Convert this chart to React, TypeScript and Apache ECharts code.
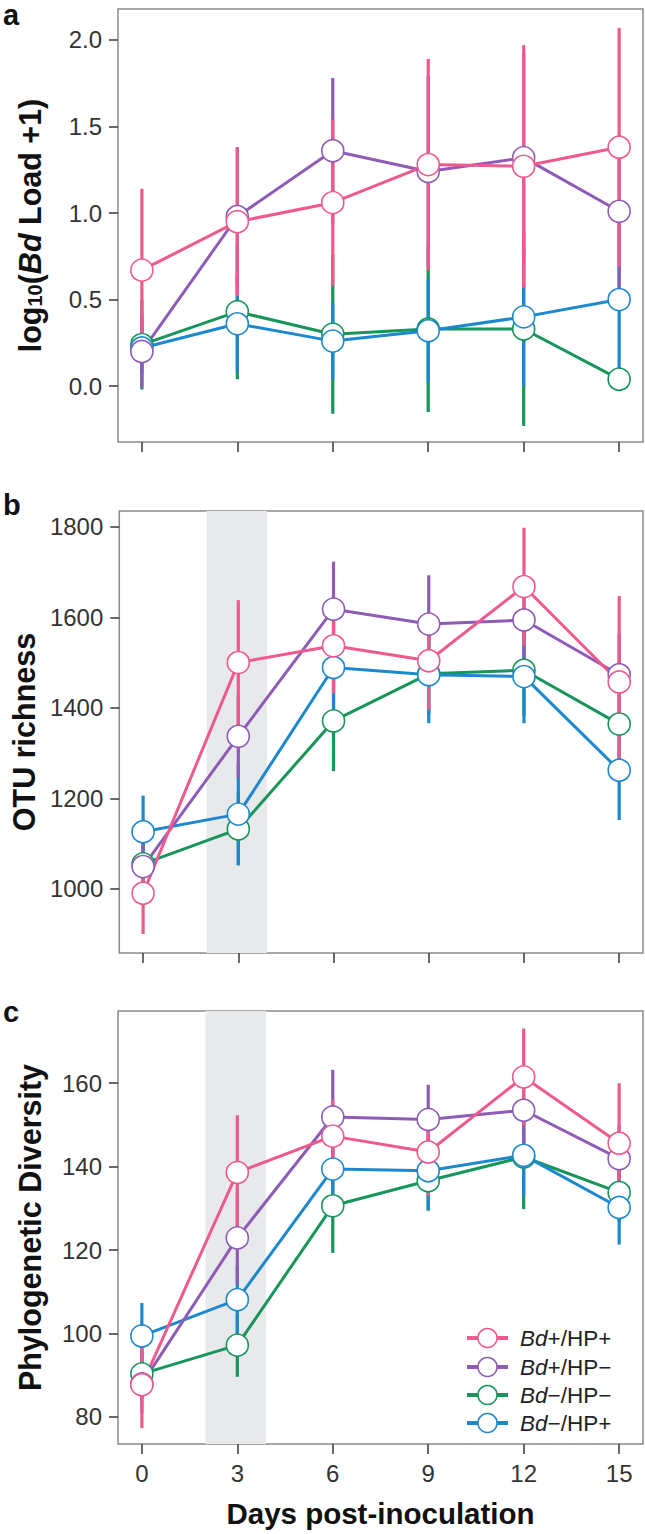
import React, { useEffect, useRef } from "react";
import * as echarts from "echarts";

// ---------- data ----------
const days = [0, 3, 6, 9, 12, 15];
const dayTicks = [0, 3, 6, 9, 12, 15];
const groupNames = ["Bd+/HP+", "Bd+/HP−", "Bd−/HP−", "Bd−/HP+"];
const groupColors = ["#EE5A8E", "#8E5CB6", "#17955A", "#1E88CF"];
const shadeBand = [2, 3.9];

// panel a: log10(Bd load + 1)
const loadMeanPink = [0.67, 0.95, 1.06, 1.28, 1.27, 1.38];
const loadSePink = [0.47, 0.43, 0.48, 0.61, 0.7, 0.69];
const loadMeanPurple = [0.2, 0.98, 1.36, 1.24, 1.32, 1.01];
const loadSePurple = [0.21, 0.4, 0.42, 0.55, 0.6, 0.44];
const loadMeanGreen = [0.24, 0.43, 0.3, 0.33, 0.33, 0.04];
const loadSeGreen = [0.26, 0.39, 0.46, 0.48, 0.56, 0.07];
const loadMeanBlue = [0.22, 0.36, 0.26, 0.32, 0.4, 0.5];
const loadSeBlue = [0.15, 0.28, 0.22, 0.3, 0.4, 0.5];
const loadTicks = [0, 0.5, 1, 1.5, 2];

// panel b: OTU richness
const otuMeanPink = [990, 1500, 1537, 1504, 1668, 1457];
const otuSePink = [90, 138, 105, 108, 130, 190];
const otuMeanPurple = [1049, 1337, 1618, 1585, 1594, 1473];
const otuSePurple = [60, 92, 105, 108, 95, 90];
const otuMeanGreen = [1055, 1132, 1371, 1475, 1483, 1364];
const otuSeGreen = [60, 80, 111, 90, 100, 95];
const otuMeanBlue = [1126, 1165, 1489, 1473, 1469, 1262];
const otuSeBlue = [80, 113, 100, 107, 103, 110];
const otuTicks = [1000, 1200, 1400, 1600, 1800];

// panel c: phylogenetic diversity
const pdMeanPink = [87.7, 138.6, 147.3, 143.5, 161.5, 145.6];
const pdSePink = [10.4, 13.7, 8.7, 10.5, 11.6, 14.4];
const pdMeanPurple = [87.9, 122.9, 151.9, 151.3, 153.5, 141.9];
const pdSePurple = [7, 11, 11.3, 8.3, 9, 8];
const pdMeanGreen = [90.3, 97.2, 130.6, 136.6, 142.3, 133.8];
const pdSeGreen = [6, 7.6, 11.3, 7, 12.5, 7];
const pdMeanBlue = [99.4, 108.1, 139.4, 139, 142.7, 130.2];
const pdSeBlue = [7.9, 8.1, 7, 9.6, 9.9, 8.9];
const pdTicks = [80, 100, 120, 140, 160];

// ---------- styling ----------
const FONT = "Liberation Sans, Arial, Helvetica, sans-serif";
const drawOrder = [2, 3, 1, 0]; // green, blue, purple, pink (pink on top)

function App() {
  const ref = useRef<HTMLDivElement | null>(null);

  useEffect(() => {
    document.body.style.margin = "0";
    if (!ref.current) return;
    const chart = echarts.init(ref.current, undefined, { renderer: "svg" });

    const panels = [
      {
        means: [loadMeanPink, loadMeanPurple, loadMeanGreen, loadMeanBlue],
        ses: [loadSePink, loadSePurple, loadSeGreen, loadSeBlue],
        ticks: loadTicks,
        min: -0.323,
        max: 2.179,
        fmt: (v: number) => v.toFixed(1),
        name: "log{sub|10}({bi|Bd} Load +1)",
        shade: false,
      },
      {
        means: [otuMeanPink, otuMeanPurple, otuMeanGreen, otuMeanBlue],
        ses: [otuSePink, otuSePurple, otuSeGreen, otuSeBlue],
        ticks: otuTicks,
        min: 858,
        max: 1835,
        fmt: (v: number) => String(v),
        name: "OTU richness",
        shade: true,
      },
      {
        means: [pdMeanPink, pdMeanPurple, pdMeanGreen, pdMeanBlue],
        ses: [pdSePink, pdSePurple, pdSeGreen, pdSeBlue],
        ticks: pdTicks,
        min: 73.5,
        max: 177.3,
        fmt: (v: number) => String(v),
        name: "Phylogenetic Diversity",
        shade: true,
      },
    ];

    const grids = [
      { left: 118, top: 9, width: 525, height: 433 },
      { left: 118, top: 511, width: 525, height: 442 },
      { left: 118, top: 1011, width: 525, height: 433 },
    ].map((g) => ({
      ...g,
      show: true,
      borderColor: "#8a8a8a",
      borderWidth: 1.5,
      backgroundColor: "transparent",
    }));

    const xAxes = panels.map((_, i) => ({
      type: "value",
      gridIndex: i,
      position: "bottom",
      min: -0.75,
      max: 15.75,
      axisLine: { show: false, onZero: false },
      splitLine: { show: false },
      axisTick: {
        show: true,
        customValues: dayTicks,
        length: 10,
        lineStyle: { color: "#444", width: 1.6 },
      },
      axisLabel: {
        show: i === 2,
        customValues: dayTicks,
        fontSize: 24,
        fontFamily: FONT,
        color: "#333",
        margin: 17,
      },
      name: i === 2 ? "Days post-inoculation" : "",
      nameLocation: "middle",
      nameGap: 54,
      nameTextStyle: {
        fontSize: 29.5,
        fontWeight: "bold",
        fontFamily: FONT,
        color: "#111",
      },
    }));

    const yAxes = panels.map((p, i) => ({
      type: "value",
      gridIndex: i,
      position: "left",
      min: p.min,
      max: p.max,
      axisLine: { show: false, onZero: false },
      splitLine: { show: false },
      axisTick: {
        show: true,
        customValues: p.ticks,
        length: 9,
        lineStyle: { color: "#444", width: 1.6 },
      },
      axisLabel: {
        customValues: p.ticks,
        formatter: p.fmt,
        fontSize: 24,
        fontFamily: FONT,
        color: "#333",
        margin: 16,
      },
      name: p.name,
      nameLocation: "middle",
      nameGap: 73,
      nameRotate: 90,
      nameTextStyle: {
        fontSize: 30.5,
        fontWeight: "bold",
        fontFamily: FONT,
        color: "#111",
        rich: {
          sub: {
            fontSize: 20,
            fontWeight: "bold",
            fontFamily: FONT,
            color: "#111",
            verticalAlign: "bottom",
            padding: [10, 0, 0, 0],
          },
          bi: {
            fontSize: 30.5,
            fontWeight: "bold",
            fontStyle: "italic",
            fontFamily: FONT,
            color: "#111",
          },
        },
      },
    }));

    const series: any[] = [];
    panels.forEach((p, pi) => {
      if (p.shade) {
        series.push({
          type: "line",
          xAxisIndex: pi,
          yAxisIndex: pi,
          data: [],
          silent: true,
          z: 0,
          markArea: {
            silent: true,
            itemStyle: { color: "#e8e9eb" },
            data: [[{ xAxis: shadeBand[0] }, { xAxis: shadeBand[1] }]],
          },
        });
      }
      drawOrder.forEach((gi) => {
        const color = groupColors[gi];
        series.push({
          type: "custom",
          name: groupNames[gi] + " SE",
          xAxisIndex: pi,
          yAxisIndex: pi,
          z: 2,
          silent: true,
          data: days.map((d, k) => [d, p.means[gi][k] - p.ses[gi][k], p.means[gi][k] + p.ses[gi][k]]),
          encode: { x: 0, y: [1, 2] },
          renderItem: (_params: any, api: any) => {
            const a = api.coord([api.value(0), api.value(1)]);
            const b = api.coord([api.value(0), api.value(2)]);
            return {
              type: "line",
              shape: { x1: a[0], y1: a[1], x2: b[0], y2: b[1] },
              style: { stroke: color, lineWidth: 3.2 },
            };
          },
        });
      });
      drawOrder.forEach((gi) => {
        const color = groupColors[gi];
        series.push({
          type: "line",
          name: groupNames[gi],
          xAxisIndex: pi,
          yAxisIndex: pi,
          z: 3,
          data: days.map((d, k) => [d, p.means[gi][k]]),
          symbol: "circle",
          symbolSize: 22,
          showSymbol: true,
          lineStyle: { color, width: 3 },
          itemStyle: { color: "#ffffff", borderColor: color, borderWidth: 1.6 },
        });
      });
    });

    // legend (drawn as graphic)
    const legendRows = [1338, 1367, 1395, 1423];
    const legendItems: any[] = [];
    [0, 1, 2, 3].forEach((gi, r) => {
      const y = legendRows[r];
      const color = groupColors[gi];
      legendItems.push({
        type: "line",
        shape: { x1: 467, y1: y, x2: 508, y2: y },
        style: { stroke: color, lineWidth: 4 },
      });
      legendItems.push({
        type: "circle",
        shape: { cx: 487.5, cy: y, r: 9.5 },
        style: { fill: "#ffffff", stroke: color, lineWidth: 1.5 },
      });
      const parts = groupNames[gi].split("d");
      legendItems.push({
        type: "text",
        x: 520,
        y: y,
        style: {
          text: "{i|Bd}" + parts.slice(1).join("d"),
          fontSize: 22.5,
          fontFamily: FONT,
          fill: "#222",
          verticalAlign: "middle",
          align: "left",
          rich: {
            i: { fontSize: 22.5, fontStyle: "italic", fontFamily: FONT, fill: "#222" },
          },
        },
      });
    });

    const panelLabels = [
      { t: "a", y: 15 },
      { t: "b", y: 505 },
      { t: "c", y: 1012 },
    ].map((l) => ({
      type: "text",
      x: 3,
      y: l.y,
      style: {
        text: l.t,
        fontSize: 29,
        fontWeight: "bold",
        fontFamily: FONT,
        fill: "#111",
        verticalAlign: "middle",
        align: "left",
      },
    }));

    chart.setOption({
      animation: false,
      backgroundColor: "#ffffff",
      grid: grids,
      xAxis: xAxes,
      yAxis: yAxes,
      series,
      graphic: [...panelLabels, ...legendItems],
    });

    return () => {
      chart.dispose();
    };
  }, []);

  return <div ref={ref} style={{ width: 645, height: 1534 }} />;
}

export default App;
